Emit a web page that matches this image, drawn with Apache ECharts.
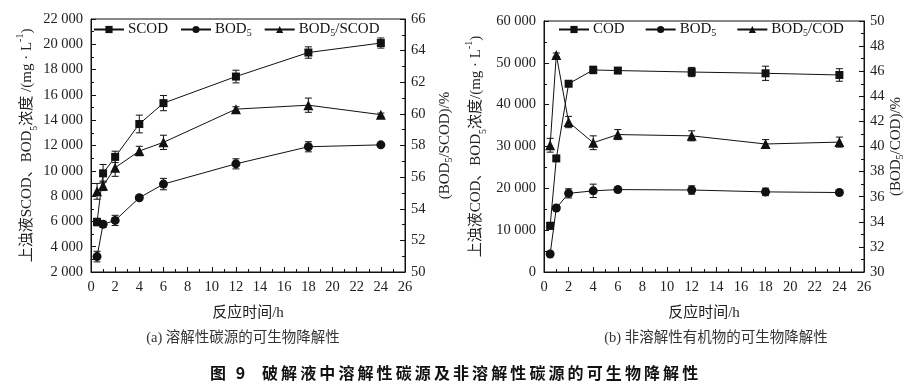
<!DOCTYPE html>
<html>
<head>
<meta charset="utf-8">
<script src="https://cdn.jsdelivr.net/npm/echarts@6/dist/echarts.min.js"></script>
<style>
html,body{margin:0;padding:0;background:#fff;}
#wrap{position:relative;width:919px;height:386px;overflow:hidden;}
#chart{position:absolute;left:0;top:0;width:919px;height:386px;}
.ttl{position:absolute;top:363px;font-family:'Noto Sans CJK SC',sans-serif;font-weight:bold;font-size:16px;line-height:18px;color:#111;white-space:nowrap;}
</style>
</head>
<body>
<div id="wrap">
  <div id="chart"></div>
  <span class="ttl" style="left:210px;letter-spacing:3px;">图 9</span>
  <span class="ttl" style="left:262px;letter-spacing:3.1px;">破解液中溶解性碳源及非溶解性碳源的可生物降解性</span>
</div>
<script>
// ---------- data: (a) soluble carbon source ----------
const timesA = [0.5, 1, 2, 4, 6, 12, 18, 24];
const scodA = [5950, 9800, 11100, 13700, 15350, 17450, 19350, 20100];
const scodAErr = [300, 700, 450, 700, 600, 500, 450, 400];
const bodA = [3220, 5770, 6080, 7870, 8950, 10550, 11900, 12050];
const bodAErr = [420, 250, 400, 150, 450, 400, 400, 0];
const ratioA = [55.1, 55.45, 56.6, 57.65, 58.2, 60.3, 60.55, 59.95];
const ratioAErr = [0.5, 0.3, 0.55, 0.3, 0.45, 0.15, 0.45, 0.1];

// ---------- data: (b) insoluble organics ----------
const timesB = [0.5, 1, 2, 4, 6, 12, 18, 24];
const codB = [11050, 27150, 45000, 48300, 48150, 47800, 47500, 47100];
const codBErr = [800, 500, 500, 900, 600, 1100, 1700, 1500];
const bodB = [4300, 15300, 18800, 19400, 19700, 19600, 19150, 19000];
const bodBErr = [0, 600, 1100, 1600, 600, 1000, 900, 500];
const ratioB = [40.1, 47.3, 41.95, 40.3, 40.95, 40.85, 40.2, 40.35];
const ratioBErr = [0.55, 0.15, 0.45, 0.55, 0.4, 0.4, 0.35, 0.4];

// ---------- axis ranges / tick labels ----------
const xRange = {min: 0, max: 26, interval: 2};
const yA_left = {min: 2000, max: 22000, interval: 2000};
const yA_right = {min: 50, max: 66, interval: 2};
const yB_left = {min: 0, max: 60000, interval: 10000};
const yB_right = {min: 30, max: 50, interval: 2};

const xName = '反应时间/h';
const captionA = '(a) 溶解性碳源的可生物降解性';
const captionB = '(b) 非溶解性有机物的可生物降解性';

const FONT = "'Liberation Serif','Noto Sans CJK SC',serif";
const INK = '#111';

function thousands(v) {
  return String(v).replace(/\B(?=(\d{3})+(?!\d))/g, ' ');
}

const richName = {
  t: {fontFamily: FONT, fontSize: 15, color: '#222', lineHeight: 18},
  s: {fontFamily: FONT, fontSize: 10, color: '#222', lineHeight: 8, verticalAlign: 'bottom'},
  p: {fontFamily: FONT, fontSize: 10, color: '#222', lineHeight: 24, verticalAlign: 'top'}
};

function xAxisCfg(gi) {
  return {
    type: 'value', gridIndex: gi, min: xRange.min, max: xRange.max, interval: xRange.interval,
    name: xName, nameLocation: 'middle', nameGap: 34,
    nameTextStyle: {fontFamily: FONT, fontSize: 15, color: '#222'},
    axisLine: {show: true, onZero: false, lineStyle: {color: INK, width: 1}},
    axisTick: {show: true, inside: true, length: 5, lineStyle: {color: INK}},
    minorTick: {show: true, splitNumber: 2, length: 3, lineStyle: {color: INK}},
    axisLabel: {fontFamily: FONT, fontSize: 14.5, color: '#222', margin: 8},
    splitLine: {show: false}
  };
}

function yAxisCfg(gi, pos, r, name, gap, fmt, margin) {
  return {
    type: 'value', gridIndex: gi, position: pos, min: r.min, max: r.max, interval: r.interval,
    name: name, nameLocation: 'middle', nameGap: gap, nameRotate: 90,
    nameTextStyle: {rich: richName},
    axisLine: {show: true, lineStyle: {color: INK, width: 1}},
    axisTick: {show: true, inside: true, length: 5, lineStyle: {color: INK}},
    minorTick: {show: true, splitNumber: 2, length: 3, lineStyle: {color: INK}},
    axisLabel: {fontFamily: FONT, fontSize: 14.5, color: '#222', margin: margin, formatter: fmt},
    splitLine: {show: false}
  };
}

function lineSeries(name, xs, ys, symbol, size, xi, yi) {
  return {
    type: 'line', name: name, xAxisIndex: xi, yAxisIndex: yi,
    data: xs.map((x, i) => [x, ys[i]]),
    symbol: symbol, symbolSize: size, showSymbol: true,
    lineStyle: {color: INK, width: 1},
    itemStyle: {color: INK, borderWidth: 0},
    z: 3, animation: false
  };
}

function errRender(params, api) {
  const x = api.value(0), lo = api.value(1), hi = api.value(2);
  const a = api.coord([x, lo]), b = api.coord([x, hi]);
  const w = 3.5;
  const st = {stroke: INK, lineWidth: 1};
  return {
    type: 'group',
    children: [
      {type: 'line', shape: {x1: a[0], y1: a[1], x2: b[0], y2: b[1]}, style: st},
      {type: 'line', shape: {x1: a[0] - w, y1: a[1], x2: a[0] + w, y2: a[1]}, style: st},
      {type: 'line', shape: {x1: b[0] - w, y1: b[1], x2: b[0] + w, y2: b[1]}, style: st}
    ]
  };
}

function errSeries(xs, ys, es, xi, yi) {
  const d = [];
  xs.forEach((x, i) => { if (es[i] > 0) d.push([x, ys[i] - es[i], ys[i] + es[i]]); });
  return {
    type: 'custom', xAxisIndex: xi, yAxisIndex: yi, data: d,
    encode: {x: 0, y: [1, 2]}, renderItem: errRender, z: 2, silent: true, animation: false
  };
}

function legendFmt(name) {
  const n = name.replace(/\(.\)$/, '');
  if (n === 'BOD5') return '{t|BOD}{s|5}';
  if (n.indexOf('BOD5/') === 0) return '{t|BOD}{s|5}{t|' + n.slice(4) + '}';
  return '{t|' + n + '}';
}

const legendRich = {
  t: {fontFamily: FONT, fontSize: 15, color: INK, lineHeight: 18},
  s: {fontFamily: FONT, fontSize: 10, color: INK, lineHeight: 8, verticalAlign: 'bottom'}
};

function legendCfg(left, data, gap) {
  return {
    left: left, top: 22, padding: 0, itemWidth: 30, itemHeight: 9, itemGap: gap,
    data: data, formatter: legendFmt, selectedMode: false,
    textStyle: {rich: legendRich, padding: [0, 0, 0, -1]}
  };
}

const option = {
  backgroundColor: '#fff',
  animation: false,
  grid: [
    {left: 91, right: 514, top: 19, bottom: 114, show: true, borderColor: INK, borderWidth: 1, backgroundColor: 'transparent'},
    {left: 544, right: 55, top: 21, bottom: 114, show: true, borderColor: INK, borderWidth: 1, backgroundColor: 'transparent'}
  ],
  legend: [
    legendCfg(93, ['SCOD', 'BOD5(a)', 'BOD5/SCOD(a)'], 12),
    legendCfg(558, ['COD', 'BOD5(b)', 'BOD5/COD(b)'], 20)
  ],
  xAxis: [xAxisCfg(0), xAxisCfg(1)],
  yAxis: [
    yAxisCfg(0, 'left', yA_left, '{t|上浊液SCOD、BOD}{s|5}{t|浓度 /(mg · L}{p|-1}{t|)}', 52, thousands, 8),
    yAxisCfg(0, 'right', yA_right, '{t|(BOD}{s|5}{t|/SCOD)/%}', 31, null, 6),
    yAxisCfg(1, 'left', yB_left, '{t|上浊液COD、BOD}{s|5}{t|浓度/(mg · L}{p|-1}{t|)}', 56, thousands, 8),
    yAxisCfg(1, 'right', yB_right, '{t|(BOD}{s|5}{t|/COD)/%}', 23, null, 6)
  ],
  graphic: [
    {type: 'text', x: 243, y: 331, style: {text: captionA, font: "14.5px " + FONT, fill: '#333', align: 'center', verticalAlign: 'top'}},
    {type: 'text', x: 716, y: 331, style: {text: captionB, font: "14.5px " + FONT, fill: '#333', align: 'center', verticalAlign: 'top'}}
  ],
  series: [
    errSeries(timesA, scodA, scodAErr, 0, 0),
    errSeries(timesA, bodA, bodAErr, 0, 0),
    errSeries(timesA, ratioA, ratioAErr, 0, 1),
    lineSeries('SCOD', timesA, scodA, 'rect', 8, 0, 0),
    lineSeries('BOD5(a)', timesA, bodA, 'circle', 9, 0, 0),
    lineSeries('BOD5/SCOD(a)', timesA, ratioA, 'triangle', 10, 0, 1),
    errSeries(timesB, codB, codBErr, 1, 2),
    errSeries(timesB, bodB, bodBErr, 1, 2),
    errSeries(timesB, ratioB, ratioBErr, 1, 3),
    lineSeries('COD', timesB, codB, 'rect', 8, 1, 2),
    lineSeries('BOD5(b)', timesB, bodB, 'circle', 9, 1, 2),
    lineSeries('BOD5/COD(b)', timesB, ratioB, 'triangle', 10, 1, 3)
  ]
};

const chart = echarts.init(document.getElementById('chart'), null, {renderer: 'canvas'});
chart.setOption(option);
</script>
</body>
</html>
